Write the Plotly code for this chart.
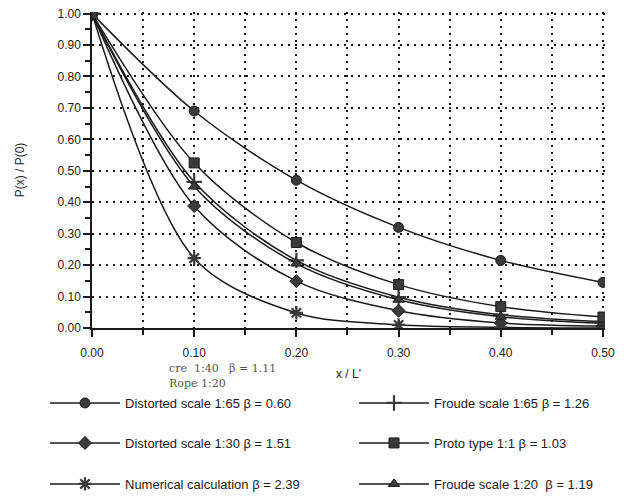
import plotly.graph_objects as go

x_vals = [0.0, 0.1, 0.2, 0.3, 0.4, 0.5]

distorted_65 = [1.0, 0.69, 0.47, 0.32, 0.215, 0.145]
froude_65 = [1.0, 0.465, 0.215, 0.098, 0.042, 0.02]
distorted_30 = [1.0, 0.388, 0.149, 0.055, 0.016, 0.006]
numerical = [1.0, 0.222, 0.048, 0.01, 0.002, 0.0]
froude_20 = [1.0, 0.45, 0.205, 0.09, 0.036, 0.015]
prototype = [1.0, 0.525, 0.272, 0.138, 0.068, 0.035]

names = [
    "Distorted scale 1:65 \u03b2 = 0.60",
    "Froude scale 1:65 \u03b2 = 1.26",
    "Distorted scale 1:30 \u03b2 = 1.51",
    "Numerical calculation \u03b2 = 2.39",
    "Froude scale 1:20  \u03b2 = 1.19",
    "Proto type 1:1 \u03b2 = 1.03",
]
series = [distorted_65, froude_65, distorted_30, numerical, froude_20, prototype]
symbols = ["circle", "cross-thin-open", "diamond", "asterisk-open", "triangle-up", "square"]
sizes = [10, 11, 10, 11, 10, 10]
legends = ["legend", "legend2", "legend3", "legend4", "legend5", "legend6"]

fig = go.Figure()
for nm, ys, sym, sz, lg in zip(names, series, symbols, sizes, legends):
    fig.add_trace(go.Scatter(
        x=x_vals, y=ys, name=nm, mode="lines+markers",
        line=dict(color="#1a1a1a", width=1.5, shape="spline", smoothing=0.9),
        marker=dict(symbol=sym, size=sz, color="#3a3a3a",
                    line=dict(color="#1a1a1a", width=2.2 if "open" in sym else 1)),
        legend=lg, showlegend=True,
    ))

font = "Liberation Sans, Arial, sans-serif"
FW, FH = 613, 484
ML, MR, MT, MB = 84, 16, 4, 164
PW, PH = FW - ML - MR, FH - MT - MB
ITEMW = 70


def leg(px_marker, py_center):
    return dict(xref="paper", yref="paper",
                x=(px_marker - (ITEMW / 2 + 5) - ML) / PW,
                y=(FH - MB - py_center) / PH,
                xanchor="left", yanchor="middle",
                font=dict(family=font, size=13, color="#1a1a1a"),
                bgcolor="rgba(0,0,0,0)", itemwidth=ITEMW)


left_x, right_x = 77, 386
rows = [395, 435, 476]

fig.update_layout(
    width=FW, height=FH,
    margin=dict(l=ML, r=MR, t=MT, b=MB, autoexpand=False),
    paper_bgcolor="white", plot_bgcolor="white",
    showlegend=True,
    font=dict(family=font, size=12, color="#1a1a1a"),
    legend=leg(left_x, rows[0]),
    legend2=leg(right_x, rows[0]),
    legend3=leg(left_x, rows[1]),
    legend6=leg(right_x, rows[1]),
    legend4=leg(left_x, rows[2]),
    legend5=leg(right_x, rows[2]),
    xaxis=dict(
        range=[0, 0.502], dtick=0.1, tickformat=".2f",
        showline=True, linecolor="#1a1a1a", linewidth=1.5,
        ticks="outside", ticklen=7, tickwidth=1.5, tickcolor="#1a1a1a",
        showgrid=True, gridcolor="#1a1a1a", griddash="2px,5px", gridwidth=1.6,
        minor=dict(dtick=0.05, showgrid=True, gridcolor="#1a1a1a", griddash="2px,5px",
                   gridwidth=1.6, ticks="outside", ticklen=5, tickcolor="#1a1a1a"),
        zeroline=False, tickfont=dict(size=12), ticklabelstandoff=6,
        ticklabeloverflow="allow",
        title=dict(text="x / L'", font=dict(size=12), standoff=10),
    ),
    yaxis=dict(
        range=[0, 1.005], dtick=0.1, tickformat=".2f",
        showline=True, linecolor="#1a1a1a", linewidth=1.5,
        ticks="outside", ticklen=7, tickwidth=1.5, tickcolor="#1a1a1a",
        showgrid=True, gridcolor="#1a1a1a", griddash="2px,5px", gridwidth=1.6,
        minor=dict(dtick=0.05, showgrid=False, ticks="outside", ticklen=5,
                   tickcolor="#1a1a1a"),
        zeroline=False, tickfont=dict(size=12), ticklabeloverflow="allow",
        title=dict(text="P(x) / P(0)", font=dict(size=12), standoff=30),
    ),
)

fig.add_annotation(text="cre  1:40   \u03b2 = 1.11", xref="paper", yref="paper",
                   x=(159 - ML) / PW, y=(FH - MB - 360) / PH, xanchor="left", yanchor="middle",
                   showarrow=False, font=dict(family="DejaVu Serif", size=11, color="#555"))
fig.add_annotation(text="Rope 1:20", xref="paper", yref="paper",
                   x=(159 - ML) / PW, y=(FH - MB - 375) / PH, xanchor="left", yanchor="middle",
                   showarrow=False, font=dict(family="DejaVu Serif", size=11, color="#555"))

fig.write_html("out.html")
